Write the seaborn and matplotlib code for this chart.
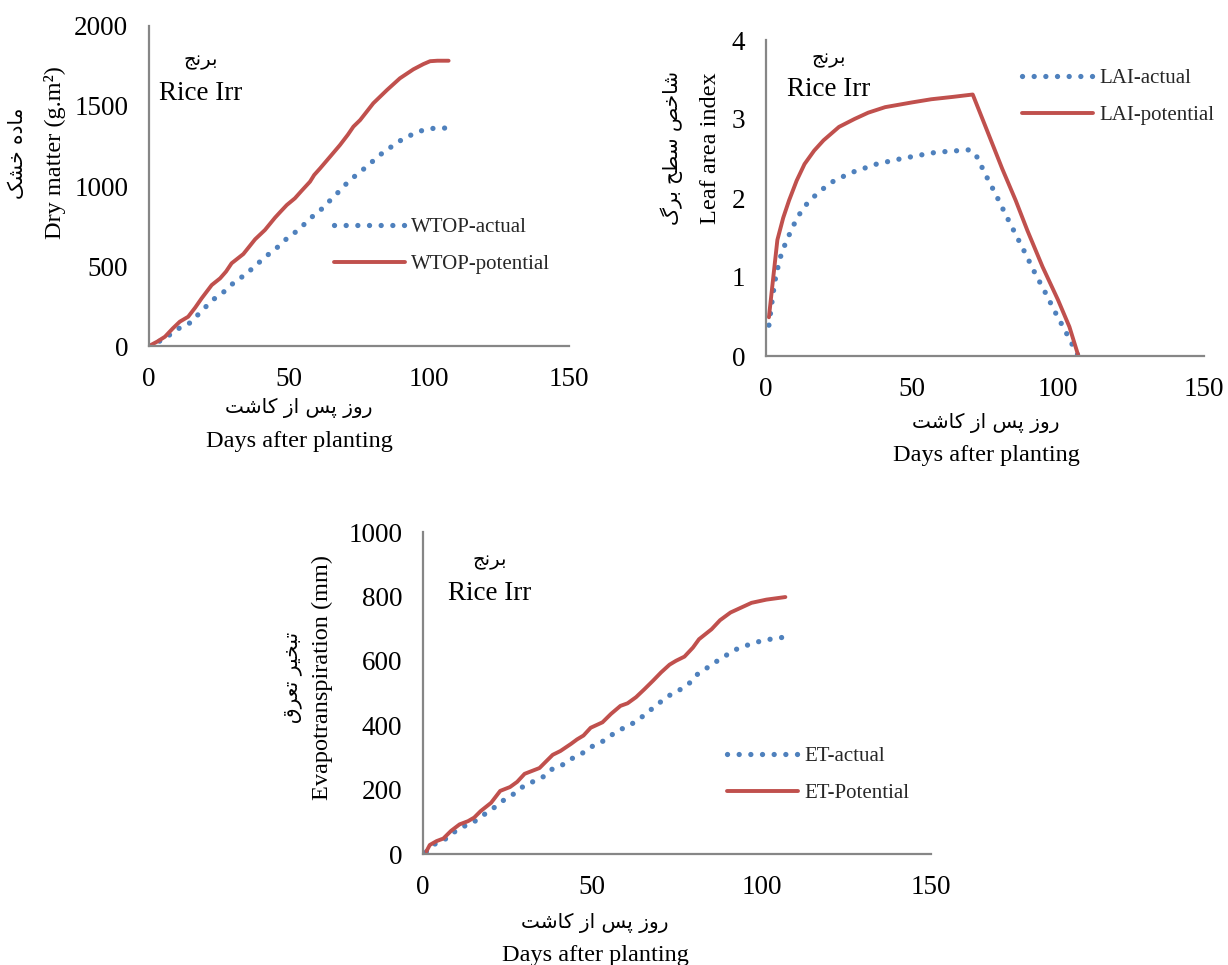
import numpy as np
import pandas as pd
import matplotlib
matplotlib.use("Agg")
import matplotlib.pyplot as plt
import seaborn as sns

# ---------------- data ----------------
wtop_act_day = [0, 3.9, 7.7, 11.1, 14.4, 17.3, 20, 22.7, 25.9, 28.7, 31.7, 34.9, 37.6, 40.8, 43.6, 46.8,
                49.5, 52.4, 55.4, 58.3, 61.3, 64, 66.8, 69.4, 72.3, 75.4, 78.3, 81.3, 84.3, 87.5, 90.8,
                94.4, 98, 101.5, 104, 107]
wtop_act_val = [0, 31, 73, 115, 142, 192, 240, 288, 325, 371, 417, 448, 500, 542, 588, 629,
                677, 713, 760, 808, 850, 898, 946, 996, 1044, 1088, 1129, 1177, 1219, 1256, 1296,
                1325, 1350, 1360, 1362, 1362]
wtop_pot_day = [0, 3, 5.7, 8.5, 11, 14, 16.5, 18.8, 22.4, 25.4, 27.5, 29.5, 33.7, 37.9, 41.4, 45, 47,
                49.2, 52.1, 54.5, 57.5, 59, 61.1, 65, 68.2, 71, 73, 75.4, 78, 80.1, 85, 89.6, 94.4,
                98, 100.4, 103, 107]
wtop_pot_val = [0, 28, 58, 110, 152, 183, 240, 298, 381, 423, 465, 517, 575, 667, 725, 802, 840,
                881, 923, 970, 1027, 1069, 1110, 1190, 1256, 1320, 1371, 1412, 1470, 1517, 1600, 1673, 1729,
                1762, 1780, 1783, 1783]

lai_act_day = [1, 2, 3, 4.6, 5.7, 7.2, 8.6, 10.3, 12.2, 14.5, 17.1, 20, 23, 26.3, 29.9, 33.2, 36.8,
               40.4, 44.1, 47.8, 51.3, 55, 58.7, 62.4, 66, 69.7, 72.1, 75.4, 78.9, 82.2, 85.5, 88.8,
               92.1, 95.7, 99.1, 102.6, 105.9, 107]
lai_act_val = [0.39, 0.67, 0.94, 1.21, 1.34, 1.47, 1.59, 1.72, 1.84, 1.95, 2.04, 2.13, 2.21, 2.27, 2.33,
               2.37, 2.42, 2.45, 2.48, 2.51, 2.53, 2.56, 2.58, 2.59, 2.60, 2.61, 2.53, 2.28, 2.03, 1.78,
               1.54, 1.30, 1.05, 0.80, 0.55, 0.31, 0.07, 0.0]
lai_pot_day = [1, 2.5, 3.9, 5.9, 7.9, 10.5, 13.2, 16.5, 19.7, 25, 30.3, 35, 40.8, 50, 56.6, 64, 70.8,
               75, 80.9, 85.5, 89.5, 94.7, 100, 103.9, 107]
lai_pot_val = [0.49, 1.0, 1.47, 1.75, 1.97, 2.22, 2.43, 2.60, 2.73, 2.90, 3.00, 3.08, 3.15, 3.21, 3.25,
               3.28, 3.31, 2.92, 2.37, 1.97, 1.59, 1.13, 0.71, 0.37, 0.0]

et_act_day = [1, 3.3, 6.2, 8.9, 11.8, 14.5, 17.2, 20.1, 22.8, 25, 27.8, 30.1, 33.1, 35.9, 38.3, 41.2,
              43.9, 46.8, 49.5, 52.4, 54.8, 57.7, 60.4, 63.2, 65.8, 68.2, 70.6, 73.4, 76.2, 78.7, 80.9,
              83.6, 86.2, 89, 91.4, 94.5, 97.6, 100.7, 103.8, 107]
et_act_val = [7, 30, 43, 66, 85, 95, 117, 136, 160, 175, 193, 215, 227, 242, 265, 277,
              296, 311, 332, 345, 363, 384, 396, 414, 435, 456, 476, 497, 512, 531, 557,
              576, 595, 613, 631, 644, 655, 664, 669, 674]
et_pot_day = [1, 2, 4, 6, 8.3, 10.8, 13.3, 15.1, 17, 20.1, 22.8, 25.7, 27.8, 30, 34.4, 36.2, 38.3, 40.6,
              43.7, 45.5, 47.4, 49.5, 53, 55.5, 58.3, 60.4, 62.9, 65.4, 67.9, 70.3, 72.8, 74.7, 77.2,
              79.7, 81.5, 85.2, 87.7, 90.8, 93.9, 97, 101.4, 107]
et_pot_val = [8, 28, 40, 48, 72, 92, 102, 113, 133, 159, 196, 208, 224, 249, 267, 286, 308, 320,
              342, 356, 368, 392, 409, 435, 460, 468, 487, 512, 538, 564, 588, 600, 613,
              641, 667, 698, 726, 750, 765, 780, 790, 798]

x_ticks = [0, 50, 100, 150]
wtop_yticks = [0, 500, 1000, 1500, 2000]
lai_yticks = [0, 1, 2, 3, 4]
et_yticks = [0, 200, 400, 600, 800, 1000]

legend_wtop = ["WTOP-actual", "WTOP-potential"]
legend_lai = ["LAI-actual", "LAI-potential"]
legend_et = ["ET-actual", "ET-Potential"]

crop_fa = "برنج"
crop_en = "Rice Irr"
xlabel_fa = "روز پس از کاشت"
xlabel_en = "Days after planting"
ylabel_wtop_fa = "ماده خشک"
ylabel_wtop_en = "Dry matter (g.m²)"
ylabel_lai_fa = "شاخص سطح برگ"
ylabel_lai_en = "Leaf area index"
ylabel_et_fa = "تبخیر تعرق"
ylabel_et_en = "Evapotranspiration (mm)"

# ---------------- Persian shaping (presentation forms, visual order) ----------------
FORMS = {
    'ا': ('\uFE8D', '\uFE8E', None, None),
    'ب': ('\uFE8F', '\uFE90', '\uFE91', '\uFE92'),
    'ت': ('\uFE95', '\uFE96', '\uFE97', '\uFE98'),
    'ج': ('\uFE9D', '\uFE9E', '\uFE9F', '\uFEA0'),
    'ح': ('\uFEA1', '\uFEA2', '\uFEA3', '\uFEA4'),
    'خ': ('\uFEA5', '\uFEA6', '\uFEA7', '\uFEA8'),
    'د': ('\uFEA9', '\uFEAA', None, None),
    'ر': ('\uFEAD', '\uFEAE', None, None),
    'ز': ('\uFEAF', '\uFEB0', None, None),
    'س': ('\uFEB1', '\uFEB2', '\uFEB3', '\uFEB4'),
    'ش': ('\uFEB5', '\uFEB6', '\uFEB7', '\uFEB8'),
    'ص': ('\uFEB9', '\uFEBA', '\uFEBB', '\uFEBC'),
    'ط': ('\uFEC1', '\uFEC2', '\uFEC3', '\uFEC4'),
    'ع': ('\uFEC9', '\uFECA', '\uFECB', '\uFECC'),
    'ق': ('\uFED5', '\uFED6', '\uFED7', '\uFED8'),
    'م': ('\uFEE1', '\uFEE2', '\uFEE3', '\uFEE4'),
    'ن': ('\uFEE5', '\uFEE6', '\uFEE7', '\uFEE8'),
    'ه': ('\uFEE9', '\uFEEA', '\uFEEB', '\uFEEC'),
    'و': ('\uFEED', '\uFEEE', None, None),
    'پ': ('\uFB56', '\uFB57', '\uFB58', '\uFB59'),
    'ک': ('\uFB8E', '\uFB8F', '\uFB90', '\uFB91'),
    'گ': ('\uFB92', '\uFB93', '\uFB94', '\uFB95'),
    'ی': ('\uFBFC', '\uFBFD', '\uFBFE', '\uFBFF'),
}


def shape_fa(s):
    s = s.replace('\u0643', '\u06A9').replace('\u064A', '\u06CC')
    chars = list(s)
    out = []
    for i, c in enumerate(chars):
        if c not in FORMS:
            out.append(c)
            continue
        prev = chars[i - 1] if i > 0 else None
        nxt = chars[i + 1] if i + 1 < len(chars) else None
        join_prev = prev in FORMS and FORMS[prev][2] is not None
        join_next = FORMS[c][2] is not None and nxt in FORMS
        iso, fin, ini, med = FORMS[c]
        if join_prev and join_next:
            out.append(med)
        elif join_prev:
            out.append(fin)
        elif join_next:
            out.append(ini)
        else:
            out.append(iso)
    return ''.join(reversed(out))


# ---------------- style ----------------
sns.set_theme(style="white")
plt.rcParams['font.family'] = ['Liberation Serif', 'DejaVu Sans']
SERIF = ['Liberation Serif', 'DejaVu Sans']
FA = ['DejaVu Sans']
BLUE = "#4F81BD"
RED = "#C0504D"
GRAY = "#868686"

W, H = 1228, 965
fig = plt.figure(figsize=(W / 100, H / 100), dpi=100)
fig.patch.set_facecolor("white")


def rect(x0, x1, ytop, ybot):
    return [x0 / W, 1 - ybot / H, (x1 - x0) / W, (ybot - ytop) / H]


def fx(x):
    return x / W


def fy(y):
    return 1 - y / H


ax1 = fig.add_axes(rect(149, 569, 26, 346))
ax2 = fig.add_axes(rect(766, 1204, 40, 356))
ax3 = fig.add_axes(rect(423, 931, 532, 854))

DOT = (0, (0.01, 2.2))


def draw(ax, d_act, v_act, d_pot, v_pot, labels, ylim, yticks):
    df_a = pd.DataFrame({"day": d_act, "val": v_act})
    df_p = pd.DataFrame({"day": d_pot, "val": v_pot})
    sns.lineplot(data=df_a, x="day", y="val", ax=ax, color=BLUE, linewidth=3.8,
                 linestyle=DOT, dash_capstyle="round", label=labels[0], sort=False,
                 estimator=None)
    sns.lineplot(data=df_p, x="day", y="val", ax=ax, color=RED, linewidth=2.8,
                 linestyle="-", label=labels[1], sort=False, estimator=None)
    ax.set_xlim(0, 150)
    ax.set_ylim(*ylim)
    ax.set_xticks(x_ticks)
    ax.set_yticks(yticks)
    ax.set_xlabel("")
    ax.set_ylabel("")
    ax.set_facecolor("white")
    for s in ["top", "right"]:
        ax.spines[s].set_visible(False)
    for s in ["left", "bottom"]:
        ax.spines[s].set_color(GRAY)
        ax.spines[s].set_linewidth(1.6)
    ax.tick_params(axis="both", direction="out", length=6, width=1.6, color=GRAY,
                   labelsize=19.5, labelcolor="black")
    ax.tick_params(axis="x", pad=9)
    ax.tick_params(axis="y", pad=9)
    for t in ax.get_xticklabels() + ax.get_yticklabels():
        t.set_fontfamily(SERIF)
    ax.grid(False)
    if ax.get_legend() is not None:
        ax.get_legend().remove()


draw(ax1, wtop_act_day, wtop_act_val, wtop_pot_day, wtop_pot_val, legend_wtop, (0, 2000), wtop_yticks)
draw(ax2, lai_act_day, lai_act_val, lai_pot_day, lai_pot_val, legend_lai, (0, 4), lai_yticks)
draw(ax3, et_act_day, et_act_val, et_pot_day, et_pot_val, legend_et, (0, 1000), et_yticks)


def legend(ax, hx, ymid):
    ax.legend(loc="center left", bbox_to_anchor=(fx(hx), fy(ymid)), bbox_transform=fig.transFigure,
              frameon=False, borderpad=0, borderaxespad=0, handlelength=3.4, handletextpad=0.3,
              labelspacing=0.85, prop={"family": SERIF, "size": 15})


legend(ax1, 334, 246)
legend(ax2, 1022, 97)
legend(ax3, 727, 775)


def ftext(x, y, s, size, fam, rot=0):
    fig.text(fx(x), fy(y), s, fontsize=size, family=fam, rotation=rot,
             ha="center", va="center", color="black")


# crop titles
for (x, y1, y2) in [(201, 60, 93), (829, 58, 90), (490, 561, 593)]:
    ftext(x, y1, shape_fa(crop_fa), 14, FA)
    ftext(x, y2, crop_en, 19.5, SERIF)

# x labels
for (x, y1, y2) in [(299, 408, 441), (986, 423, 456), (595, 923, 955)]:
    ftext(x, y1, shape_fa(xlabel_fa), 14.5, FA)
    ftext(x, y2, xlabel_en, 17.5, SERIF)

# y labels
ftext(18, 153, shape_fa(ylabel_wtop_fa), 14.5, FA, 90)
ftext(55, 153, ylabel_wtop_en, 17.5, SERIF, 90)
ftext(672, 148, shape_fa(ylabel_lai_fa), 14.5, FA, 90)
ftext(711, 148, ylabel_lai_en, 17.5, SERIF, 90)
ftext(292, 677, shape_fa(ylabel_et_fa), 14.5, FA, 90)
ftext(322, 677, ylabel_et_en, 17.5, SERIF, 90)

fig.savefig("out.png", dpi=100, facecolor="white")
